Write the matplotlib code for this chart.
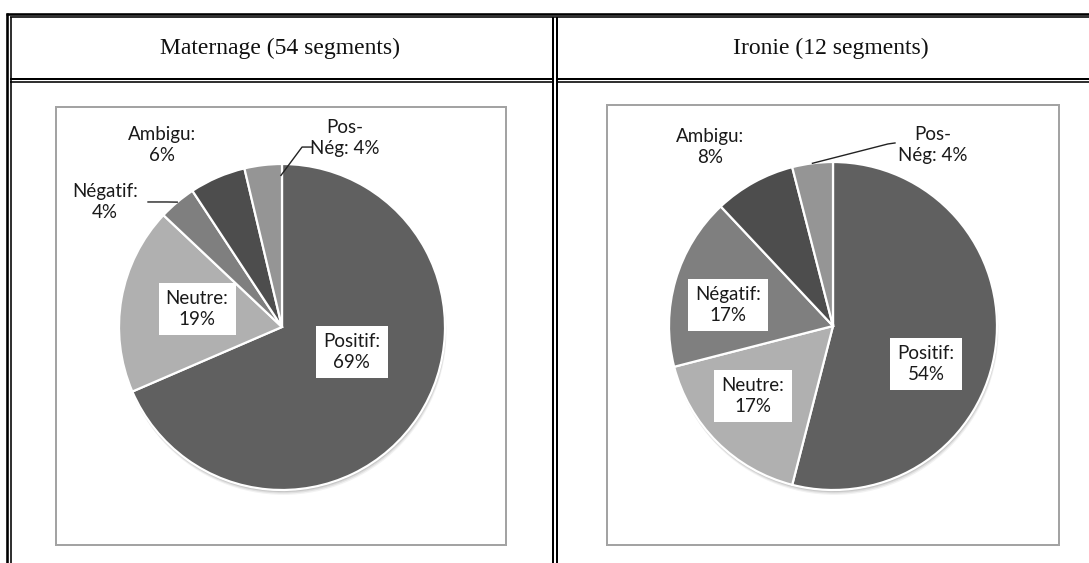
import matplotlib
matplotlib.use("Agg")
import matplotlib.pyplot as plt
from matplotlib.patches import Rectangle, Circle
import numpy as np

# ---------------- data ----------------
categories = ["Positif", "Neutre", "Négatif", "Ambigu", "Pos-Nég"]
titles = ["Maternage (54 segments)", "Ironie (12 segments)"]
maternage_segments = [37, 10, 2, 3, 2]          # out of 54 segments
maternage_pct = [69, 19, 4, 6, 4]
ironie_pct = [54, 17, 17, 8, 4]
colors = ["#606060", "#b0b0b0", "#7f7f7f", "#4d4d4d", "#959595"]

W, H = 1089, 563
fig = plt.figure(figsize=(W / 100, H / 100), dpi=100)
fig.patch.set_facecolor("white")
bg = fig.add_axes([0, 0, 1, 1])
bg.set_xlim(0, W)
bg.set_ylim(H, 0)
bg.axis("off")

PX = 0.72  # points per pixel


def hline(y, x0, x1, t):
    bg.plot([x0, x1], [y, y], color="black", lw=t * PX, solid_capstyle="butt")


def vline(x, y0, y1, t):
    bg.plot([x, x], [y0, y1], color="black", lw=t * PX, solid_capstyle="butt")


# table borders (double lines)
hline(13.8, 6, W, 2.6)
hline(17.3, 9.5, W, 1.6)
hline(78.6, 9.5, 553.5, 2.0)
hline(82.0, 9.5, 553.5, 1.6)
hline(78.6, 556, W, 2.0)
hline(82.0, 556, W, 1.6)
vline(7.3, 12.5, H, 2.6)
vline(10.6, 17, H, 1.6)
vline(553.3, 17, H, 2.0)
vline(556.8, 17, H, 2.0)

# headers
for cx, t in zip([280, 831], titles):
    bg.text(cx, 48, t, ha="center", va="center", fontsize=17,
            family="Liberation Serif", color="#111111")

# chart boxes
for (x0, y0, x1, y1) in [(56, 107, 506, 545), (607, 105, 1059, 545)]:
    bg.add_patch(Rectangle((x0, y0), x1 - x0, y1 - y0, fill=False,
                           edgecolor="#a3a3a3", lw=2 * PX))

# ---------------- pies ----------------
label_font = dict(family=["Lato", "DejaVu Sans"], fontsize=13.5, color="#1a1a1a")

pies = [
    dict(values=maternage_segments, pct=maternage_pct, cx=282, cy=327, R=163,
         pos=[(0.429, -0.153), (-0.521, 0.110), (-1.086, 0.767),
              (-0.736, 1.117), (0.387, 1.160)],
         boxed=[True, True, False, False, False],
         leaders={2: (0.5, 1.0, [(-0.706, 0.767), (-0.822, 0.767)]),
                  4: (0.03, 0.93, [(0.123, 1.104), (0.184, 1.104)])}),
    dict(values=ironie_pct, pct=ironie_pct, cx=833, cy=326, R=164,
         pos=[(0.567, -0.232), (-0.488, -0.427), (-0.640, 0.128),
              (-0.750, 1.091), (0.610, 1.104)],
         boxed=[True, True, True, False, False],
         leaders={4: (0.5, 1.0, [(0.335, 1.110), (0.378, 1.116)])}),
]

for p in pies:
    S = 1.5
    side = 2 * S * p["R"]
    ax = fig.add_axes([(p["cx"] - S * p["R"]) / W, 1 - (p["cy"] + S * p["R"]) / H,
                       side / W, side / H])
    # soft shadow
    for off, a in [(0.030, 0.05), (0.022, 0.07), (0.014, 0.09), (0.008, 0.10)]:
        ax.add_patch(Circle((off * 0.3, -off), 1.0, color="black", alpha=a,
                            lw=0, zorder=0))
    wedges, _ = ax.pie(p["values"], colors=colors, startangle=90,
                       counterclock=False, radius=1.0,
                       wedgeprops=dict(edgecolor="white", linewidth=1.6))
    for w in wedges:
        w.set_zorder(1)
    ax.set_xlim(-S, S)
    ax.set_ylim(-S, S)
    ax.set_aspect("equal")
    ax.axis("off")

    for i, (cat, pc) in enumerate(zip(categories, p["pct"])):
        if cat == "Pos-Nég":
            txt = f"Pos-\nNég: {pc}%"
        else:
            txt = f"{cat}:\n{pc}%"
        kw = dict(ha="center", va="center", linespacing=1.3, zorder=5, **label_font)
        if p["boxed"][i]:
            kw["bbox"] = dict(boxstyle="square,pad=0.38", fc="white", ec="none")
        x, y = p["pos"][i]
        ax.text(x, y, txt, **kw)

    for i, (frac, r, pts) in p["leaders"].items():
        w = wedges[i]
        th = np.deg2rad(w.theta1 + frac * (w.theta2 - w.theta1))
        xs = [r * np.cos(th)] + [q[0] for q in pts]
        ys = [r * np.sin(th)] + [q[1] for q in pts]
        ax.plot(xs, ys, color="#222222", lw=1.0, zorder=4, clip_on=False)

fig.savefig("out.png", dpi=100, facecolor="white")
